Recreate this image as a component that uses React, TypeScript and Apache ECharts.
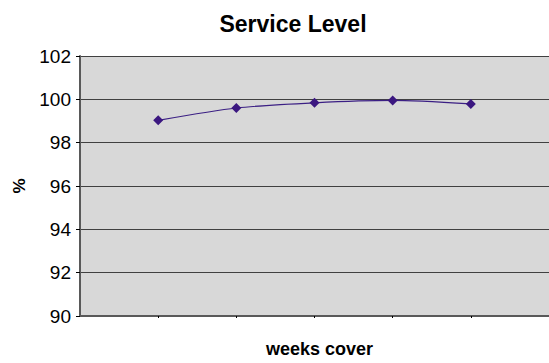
import React, { useEffect, useRef } from "react";
import * as echarts from "echarts";

const categories = ["", "1", "2", "3", "4", "5", ""];
const serviceLevel = [null, 99.03, 99.6, 99.84, 99.95, 99.79, null];
const yMin = 90;
const yMax = 102;
const yStep = 2;

export default function App() {
  const ref = useRef<HTMLDivElement>(null);
  useEffect(() => {
    if (!ref.current) return;
    const chart = echarts.init(ref.current, undefined, { renderer: "svg" });
    const font = "Liberation Sans, Arial, sans-serif";
    chart.setOption({
      animation: false,
      backgroundColor: "#ffffff",
      textStyle: { fontFamily: font },
      title: {
        text: "Service Level",
        left: 288,
        top: 7,
        textAlign: "center",
        textStyle: { fontSize: 23, fontWeight: "bold", color: "#000", fontFamily: font },
      },
      grid: {
        left: 80,
        top: 56,
        right: 0,
        bottom: 43,
        show: true,
        backgroundColor: "#D8D8D8",
        borderWidth: 0,
      },
      xAxis: {
        type: "category",
        data: categories,
        boundaryGap: false,
        name: "weeks cover",
        nameLocation: "middle",
        nameGap: 24,
        nameTextStyle: {
          fontSize: 18,
          fontWeight: "bold",
          color: "#000",
          fontFamily: font,
          padding: [0, 0, 0, 10],
        },
        axisLine: { lineStyle: { color: "#595959", width: 2 } },
        axisTick: {
          show: true,
          length: 2,
          interval: (i: number) => i >= 1 && i <= 5,
          lineStyle: { color: "#000" },
        },
        axisLabel: { show: false },
        splitLine: { show: false },
      },
      yAxis: {
        type: "value",
        min: yMin,
        max: yMax,
        interval: yStep,
        name: "%",
        nameLocation: "middle",
        nameGap: 50,
        nameRotate: 90,
        nameTextStyle: { fontSize: 17, fontWeight: "bold", color: "#000", fontFamily: font },
        axisLine: { show: true, lineStyle: { color: "#595959", width: 2 } },
        axisTick: { show: true, length: 4, lineStyle: { color: "#000" } },
        axisLabel: { fontSize: 19, color: "#000", margin: 9, fontFamily: font },
        splitLine: { show: true, lineStyle: { color: "#404040", width: 1 } },
      },
      series: [
        {
          type: "line",
          data: serviceLevel,
          smooth: 0.25,
          symbol: "diamond",
          symbolSize: 10,
          lineStyle: { color: "#3B1F84", width: 1.2 },
          itemStyle: { color: "#3B1780" },
        },
      ],
    });
    return () => chart.dispose();
  }, []);
  return (
    <div
      ref={ref}
      style={{ position: "fixed", left: 0, top: 0, width: 549, height: 363 }}
    />
  );
}
